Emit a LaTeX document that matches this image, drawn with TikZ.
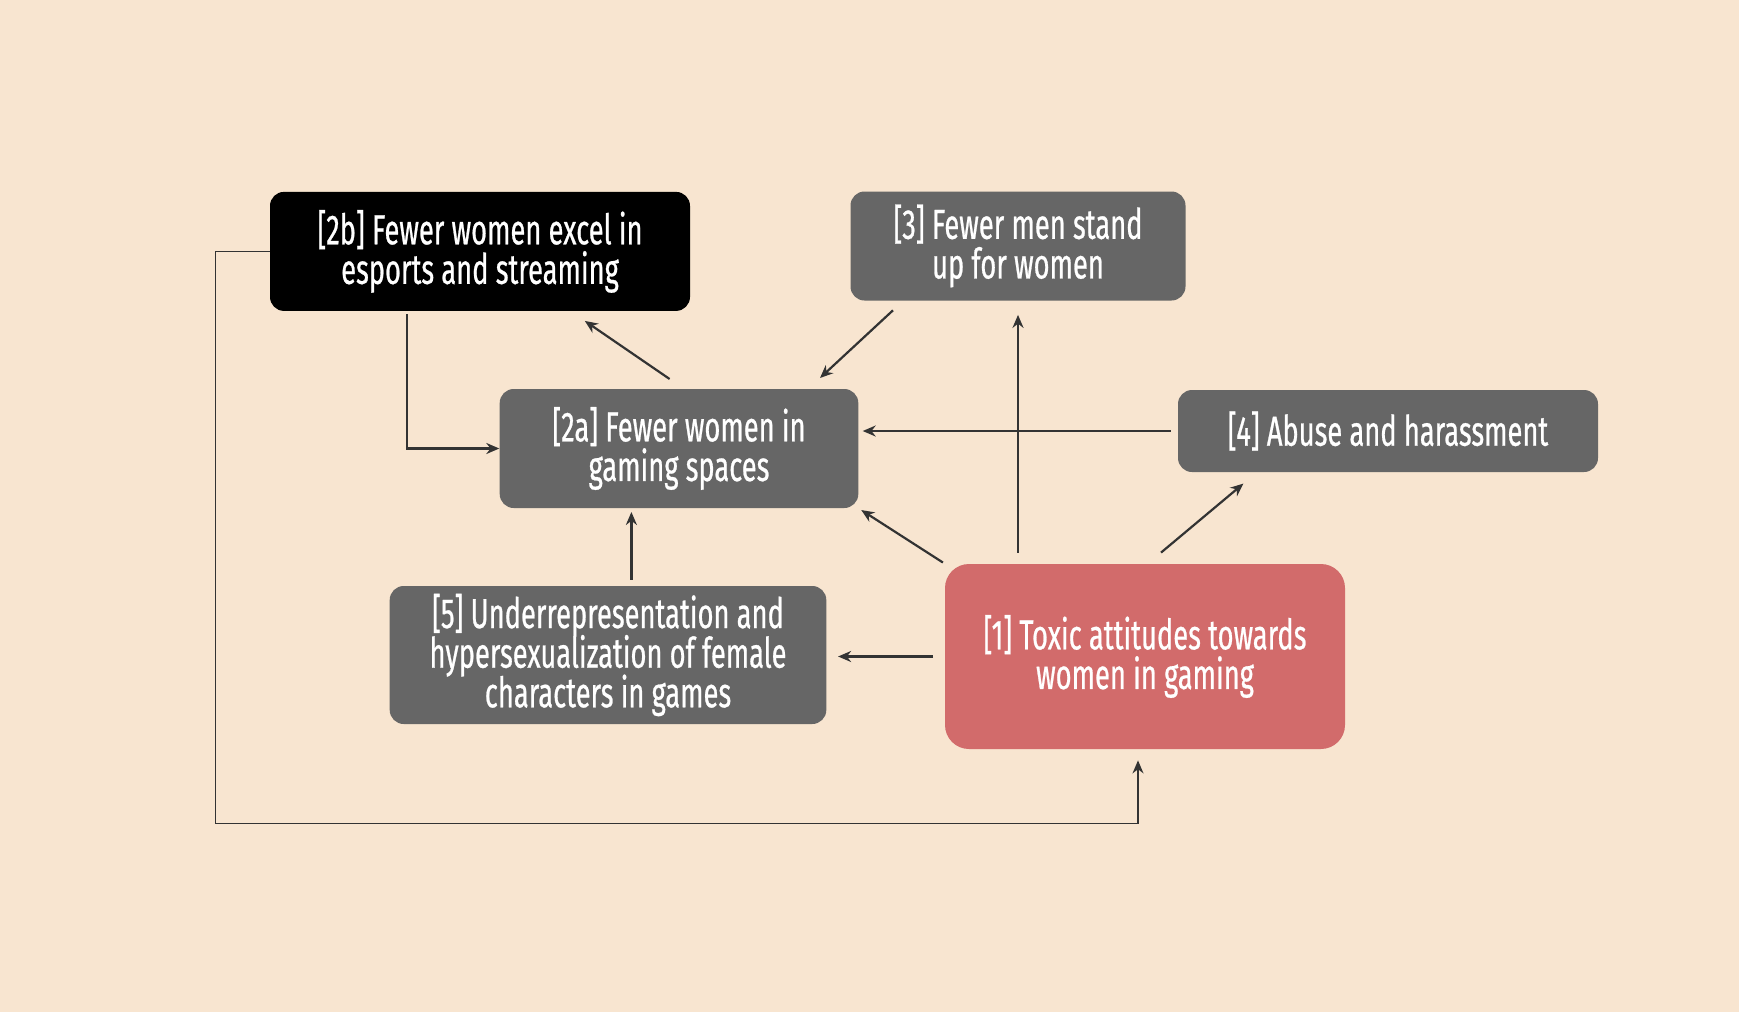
\documentclass[tikz,border=0pt]{standalone}
\usepackage{fontspec}
\setmainfont{Fira Sans}[FakeStretch=0.65,FakeBold=0.6]
\usetikzlibrary{arrows.meta,calc,positioning}
\definecolor{bgpeach}{HTML}{F8E5D0}
\definecolor{boxgray}{HTML}{666666}
\definecolor{toxicred}{HTML}{D26B6B}
\definecolor{linkgray}{HTML}{333333}
\setlength{\lineskiplimit}{-20pt}

\begin{document}
\begin{tikzpicture}[
  x=0.5pt, y=-0.5pt,
  every node/.style={font=\fontsize{21}{19.8}\selectfont\color{white}, align=center, inner sep=0pt},
  causebox/.style={rectangle, fill=boxgray, rounded corners=7pt},
  link/.style={-{Stealth[length=6.5pt,width=5.5pt]}, draw=linkgray, line width=1.1pt}
]
  \fill[bgpeach] (0,0) rectangle (1739,1012);

  \node (n2b) [causebox, fill=black, minimum width=210pt, minimum height=59.5pt] at (480,251.4) {[2b] Fewer women excel in\\esports and streaming};
  \node (n3) [causebox, minimum width=167.5pt, minimum height=54.5pt] at (1018,246) {[3] Fewer men stand\\up for women};
  \node (n2a) [causebox, minimum width=179.3pt, minimum height=59.5pt] at (679,448.5) {[2a] Fewer women in\\gaming spaces};
  \node (n4) [causebox, minimum width=210pt, minimum height=41pt] at (1388,431) {[4] Abuse and harassment};
  \node (n5) [causebox, minimum width=218.3pt, minimum height=69pt] at (608,655) {[5] Underrepresentation and\\hypersexualization of female\\characters in games};
  \node (n1) [causebox, fill=toxicred, rounded corners=12pt, minimum width=200pt, minimum height=92.5pt] at (1145,656.5) {[1] Toxic attitudes towards\\women in gaming};

  \coordinate (c5) at ([xshift=11.7pt]n5.north);
  \coordinate (loopbot) at (215.6,823.3);

  \draw[link, shorten <=1.5pt] ([xshift=-36.6pt]n2b.south) |- (n2a.west);
  \draw[link] ([xshift=-4.7pt,yshift=4.8pt]n2a.north) -- ([xshift=52.4pt,yshift=-4.8pt]n2b.south);
  \draw[link] ([xshift=-62.5pt,yshift=-4.7pt]n3.south) -- ([xshift=70.5pt,yshift=5.3pt]n2a.north);
  \draw[link, shorten <=5.5pt, shorten >=7pt] (n3.south |- n1.north) -- (n3.south);
  \draw[link, shorten <=3.5pt, shorten >=2pt] (n4.west) -- (n4.west -| n2a.east);
  \draw[link] ([xshift=8pt,yshift=5.5pt]n1.north) -- ([xshift=-72.3pt,yshift=-5.6pt]n4.south);
  \draw[link, shorten <=1pt, shorten >=1.5pt] (n1.north west) -- (n2a.south east);
  \draw[link, shorten <=3pt, shorten >=1.8pt] (c5) -- (c5 |- n2a.south);
  \draw[link, shorten <=5.7pt, shorten >=5.7pt] (n1.west) -- (n1.west -| n5.east);
  \draw[link, line width=0.8pt, shorten >=5.5pt] (n2b.west) -| (loopbot) -| ([xshift=-3.5pt]n1.south);
\end{tikzpicture}
\end{document}
